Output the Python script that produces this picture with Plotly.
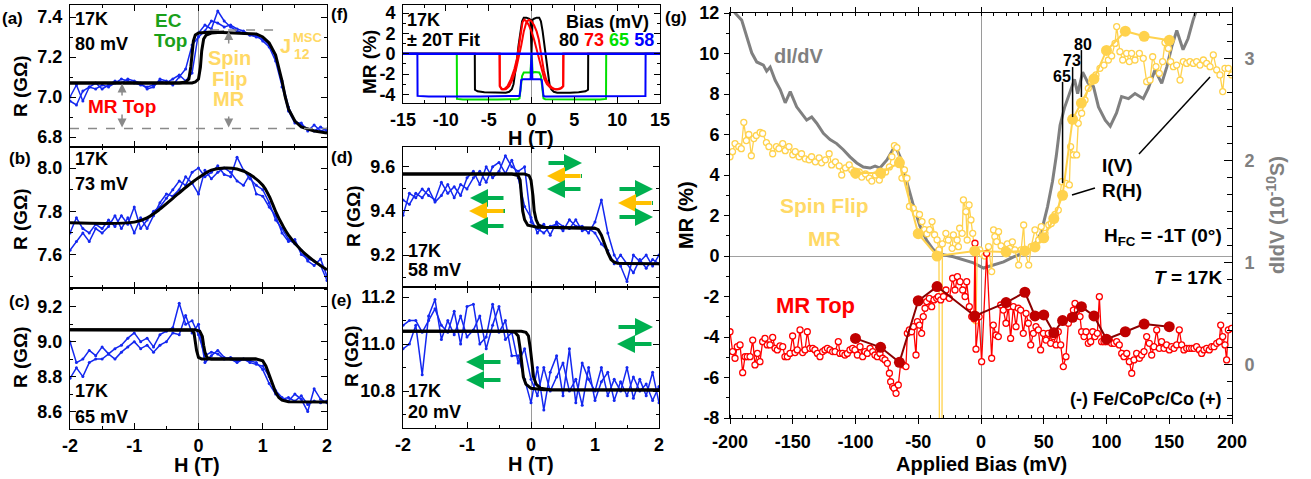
import plotly.graph_objects as go

W, H = 1311, 479
FONT = "Liberation Sans, Arial, sans-serif"
BLUE = "#1428F0"
RED = "#FF0000"
DARKRED = "#C00000"
YEL = "#FFD24D"
YEL_TXT = "#FFD966"
GRAY = "#808080"
GREEN_TXT = "#1AA01A"
GREEN_ARR = "#00B050"
ORANGE = "#FFC000"
BGREEN = "#00E000"

# ---------------- data: panels (a)-(e), R (GOhm) vs H (T) ----------------
H_GRID = [-2.0, -1.9, -1.8, -1.7, -1.6, -1.5, -1.4, -1.3, -1.2, -1.1, -1.0, -0.9, -0.8, -0.7,
          -0.6, -0.5, -0.4, -0.3, -0.2, -0.1, 0.0, 0.1, 0.2, 0.3, 0.4, 0.5, 0.6, 0.7, 0.8, 0.9,
          1.0, 1.1, 1.2, 1.3, 1.4, 1.5, 1.6, 1.7, 1.8, 1.9, 2.0]

A_SWEEP1 = [6.98, 6.96, 7.03, 7.05, 7.04, 7.06, 7.05, 7.07, 7.09, 7.08, 7.07, 7.06, 7.05, 7.06,
            7.08, 7.07, 7.09, 7.11, 7.08, 7.12, 7.32, 7.36, 7.34, 7.43, 7.38, 7.35, 7.33, 7.32,
            7.31, 7.30, 7.29, 7.26, 7.20, 7.08, 6.95, 6.88, 6.86, 6.84, 6.83, 6.85, 6.83]
A_SWEEP2 = [7.00, 7.06, 6.98, 7.05, 7.07, 7.04, 7.06, 7.08, 7.07, 7.09, 7.08, 7.07, 7.04, 7.05,
            7.09, 7.08, 7.06, 7.10, 7.14, 7.26, 7.30, 7.33, 7.38, 7.37, 7.35, 7.36, 7.34, 7.33,
            7.31, 7.31, 7.28, 7.25, 7.18, 7.05, 6.93, 6.87, 6.87, 6.83, 6.86, 6.83, 6.84]
A_FIT1_H = [-2.0, -0.3, -0.2, -0.15, -0.12, -0.1, -0.08, -0.05, 0.0, 0.2, 0.9, 1.0, 1.1, 1.2,
            1.25, 1.3, 1.35, 1.4, 1.5, 1.6, 1.8, 2.0]
A_FIT1_R = [7.07, 7.07, 7.075, 7.09, 7.15, 7.22, 7.28, 7.31, 7.32, 7.325, 7.315, 7.30, 7.27,
            7.21, 7.15, 7.08, 7.00, 6.94, 6.88, 6.85, 6.83, 6.82]
A_FIT2_H = [-2.0, -0.1, -0.05, 0.0, 0.03, 0.05, 0.08, 0.12, 0.2, 0.4]
A_FIT2_R = [7.07, 7.07, 7.075, 7.09, 7.15, 7.23, 7.29, 7.31, 7.32, 7.325]

B_SWEEP1 = [7.70, 7.77, 7.72, 7.70, 7.74, 7.72, 7.76, 7.73, 7.78, 7.74, 7.82, 7.72, 7.76, 7.80,
            7.82, 7.86, 7.90, 7.94, 7.92, 7.98, 8.00, 7.96, 7.98, 8.01, 7.97, 7.96, 8.05, 7.99,
            7.95, 7.92, 7.90, 7.84, 7.76, 7.72, 7.67, 7.65, 7.62, 7.57, 7.55, 7.58, 7.50]
B_SWEEP2 = [7.62, 7.66, 7.70, 7.66, 7.72, 7.70, 7.73, 7.78, 7.72, 7.77, 7.70, 7.77, 7.72, 7.78,
            7.84, 7.88, 7.87, 7.90, 7.96, 7.93, 7.88, 7.99, 7.95, 7.98, 8.00, 7.98, 7.94, 7.92,
            7.97, 7.88, 7.87, 7.82, 7.78, 7.70, 7.66, 7.67, 7.60, 7.58, 7.57, 7.55, 7.48]
B_FIT_H = [-2.0, -1.0, -0.8, -0.6, -0.4, -0.2, 0.0, 0.2, 0.4, 0.6, 0.8, 1.0, 1.1, 1.2, 1.3,
           1.4, 1.6, 1.8, 2.0]
B_FIT_R = [7.747, 7.75, 7.77, 7.81, 7.86, 7.91, 7.955, 7.99, 8.0, 7.995, 7.97, 7.92, 7.87,
           7.80, 7.74, 7.69, 7.62, 7.57, 7.53]

C_SWEEP1 = [9.00, 8.88, 8.90, 8.95, 8.92, 8.97, 8.93, 8.96, 8.98, 9.02, 9.05, 9.00, 9.02, 8.97,
            9.04, 9.06, 9.08, 9.22, 9.10, 9.12, 9.04, 8.92, 8.94, 8.93, 8.90, 8.91, 8.89, 8.90,
            8.88, 8.87, 8.86, 8.80, 8.72, 8.68, 8.66, 8.70, 8.67, 8.60, 8.73, 8.67, 8.65]
C_SWEEP2 = [8.79, 8.85, 8.80, 8.88, 8.90, 8.90, 8.93, 8.90, 8.94, 8.97, 9.00, 8.96, 8.98, 8.94,
            8.98, 9.00, 9.05, 9.04, 9.15, 9.05, 9.10, 8.88, 8.92, 8.95, 8.91, 8.90, 8.88, 8.90,
            8.89, 8.88, 8.84, 8.76, 8.70, 8.67, 8.68, 8.66, 8.69, 8.64, 8.66, 8.65, 8.66]
C_FIT1_H = [-2.0, -0.2, -0.1, -0.07, -0.05, -0.03, 0.0, 0.05, 0.9, 1.0, 1.05, 1.1, 1.15, 1.2,
            1.25, 1.3, 1.4, 2.0]
C_FIT1_R = [9.068, 9.068, 9.065, 9.05, 9.0, 8.95, 8.91, 8.90, 8.90, 8.89, 8.86, 8.81, 8.76,
            8.71, 8.68, 8.665, 8.656, 8.655]
C_FIT2_H = [-2.0, -0.05, 0.02, 0.06, 0.08, 0.1, 0.13, 0.2, 0.9]
C_FIT2_R = [9.068, 9.068, 9.06, 9.03, 8.98, 8.94, 8.91, 8.90, 8.90]

D_SWEEP1 = [9.38, 9.48, 9.46, 9.50, 9.47, 9.45, 9.53, 9.48, 9.51, 9.47, 9.55, 9.58, 9.52, 9.60,
            9.55, 9.58, 9.65, 9.60, 9.58, 9.60, 9.35, 9.32, 9.30, 9.33, 9.34, 9.31, 9.36, 9.33,
            9.33, 9.30, 9.35, 9.45, 9.30, 9.20, 9.15, 9.08, 9.20, 9.17, 9.20, 9.15, 9.20]
D_SWEEP2 = [9.45, 9.43, 9.48, 9.46, 9.50, 9.44, 9.47, 9.52, 9.46, 9.52, 9.50, 9.55, 9.58, 9.53,
            9.60, 9.62, 9.57, 9.63, 9.55, 9.42, 9.37, 9.30, 9.34, 9.29, 9.35, 9.33, 9.32, 9.36,
            9.31, 9.32, 9.30, 9.25, 9.22, 9.16, 9.20, 9.16, 9.12, 9.18, 9.14, 9.18, 9.16]
D_FIT1_H = [-2.0, -0.3, -0.2, -0.17, -0.15, -0.13, -0.1, -0.05, 0.1, 1.0, 1.05, 1.1, 1.15,
            1.2, 1.25, 1.3, 1.35, 1.45, 2.0]
D_FIT1_R = [9.567, 9.567, 9.56, 9.54, 9.47, 9.40, 9.36, 9.335, 9.326, 9.322, 9.315, 9.29,
            9.25, 9.21, 9.18, 9.168, 9.163, 9.162, 9.16]
D_FIT2_H = [-2.0, -0.1, -0.03, 0.0, 0.03, 0.05, 0.08, 0.12, 0.2, 1.0]
D_FIT2_R = [9.567, 9.567, 9.56, 9.54, 9.47, 9.40, 9.36, 9.335, 9.326, 9.322]

E_SWEEP1 = [11.08, 11.10, 11.10, 11.05, 11.10, 11.15, 11.08, 11.05, 11.14, 11.00, 11.16, 11.17,
            11.00, 11.03, 11.17, 11.05, 11.10, 10.95, 10.95, 10.85, 10.75, 10.90, 10.72, 10.88,
            10.95, 10.78, 10.98, 10.75, 10.92, 10.85, 10.80, 10.90, 10.78, 10.85, 10.80, 10.90,
            10.77, 10.85, 10.78, 10.88, 10.75]
E_SWEEP2 = [10.98, 11.00, 11.08, 10.87, 11.12, 11.19, 11.02, 11.10, 11.04, 11.12, 11.03, 11.06,
            11.12, 10.98, 11.08, 11.16, 11.02, 11.05, 10.92, 10.98, 10.85, 10.78, 10.90, 10.80,
            10.86, 10.92, 10.80, 10.85, 10.74, 10.90, 10.76, 10.84, 10.88, 10.76, 10.84, 10.78,
            10.86, 10.80, 10.83, 10.76, 10.82]
E_FIT1_H = [-2.0, -0.35, -0.25, -0.2, -0.17, -0.15, -0.12, -0.08, 0.0, 0.2, 2.0]
E_FIT1_R = [11.055, 11.055, 11.05, 11.035, 10.98, 10.92, 10.86, 10.83, 10.812, 10.806, 10.805]
E_FIT2_H = [-2.0, -0.15, -0.08, -0.04, -0.01, 0.01, 0.04, 0.08, 0.15, 0.3, 2.0]
E_FIT2_R = [11.055, 11.055, 11.05, 11.035, 10.98, 10.92, 10.86, 10.83, 10.812, 10.806, 10.805]

# ---------------- data: panel (f), MR (%) vs H (T), +-20T fits ----------------
F80_H = [-15, -6.62, -6.6, -6.3, -5.5, -4.5, -3.5, -3.0, -2.6, -2.3, -2.1, -1.9, -1.7, -1.5,
         -1.3, -1.1, -0.9, -0.6, -0.3, -0.12, -0.05, 0.0, 0.05, 0.12, 0.3, 0.6, 0.9, 1.1, 1.3,
         1.5, 1.7, 1.9, 2.1, 2.3, 2.6, 3.0, 3.5, 4.5, 5.5, 6.3, 6.6, 6.62, 15]
F80_MR = [0, 0, -3.55, -3.7, -3.78, -3.83, -3.85, -3.84, -3.75, -3.5, -3.0, -2.0, -0.6, 0.9,
          2.2, 3.2, 3.55, 3.55, 3.45, 3.35, 1.5, 0.05, 1.5, 3.35, 3.45, 3.55, 3.55, 3.2, 2.2,
          0.9, -0.6, -2.0, -3.0, -3.5, -3.75, -3.84, -3.85, -3.83, -3.78, -3.7, -3.55, 0, 0]
F73_H = [-15, -3.72, -3.7, -3.5, -3.2, -2.8, -2.4, -2.0, -1.7, -1.45, -1.25, -1.05, -0.85,
         -0.6, -0.3, 0.0, 0.3, 0.6, 0.9, 1.2, 1.5, 1.8, 2.2, 2.6, 3.0, 3.4, 3.7, 3.72, 15]
F73_MR = [0, 0, -3.2, -3.5, -3.5, -3.2, -2.5, -1.5, -0.5, 0.8, 2.2, 3.1, 3.35, 3.2, 2.8, 2.2,
          1.4, 0.4, -0.7, -1.7, -2.5, -3.0, -3.35, -3.5, -3.5, -3.4, -3.2, 0, 0]
F73B_H = [-h for h in F73_H]
F65_H = [-15, -8.72, -8.7, -8.0, -4.0, -1.6, -1.4, -1.25, -1.1, -0.9, -0.4, -0.2, -0.12,
         -0.06, 0.0, 0.06, 0.12, 0.2, 0.4, 0.9, 1.1, 1.25, 1.4, 1.6, 4.0, 8.0, 8.7, 8.72, 15]
F65_MR = [0, 0, -4.45, -4.5, -4.5, -4.48, -4.4, -3.5, -2.2, -1.85, -1.8, -1.85, -1.9, -0.6,
          0.0, -0.6, -1.9, -1.85, -1.8, -1.85, -2.2, -3.5, -4.4, -4.48, -4.5, -4.5, -4.45, 0, 0]
F58_H = [-15, -13.32, -13.3, -12, -6, -1.6, -1.4, -1.3, -1.2, -1.0, -0.5, -0.2, -0.1, -0.05,
         0.0, 0.05, 0.1, 0.2, 0.5, 1.0, 1.2, 1.3, 1.4, 1.6, 6, 12, 13.3, 13.32, 15]
F58_MR = [0, 0, -4.15, -4.2, -4.2, -4.2, -4.15, -3.6, -2.6, -2.5, -2.5, -2.5, -2.5, -1.0, 0.0,
          -1.0, -2.5, -2.5, -2.5, -2.5, -2.6, -3.6, -4.15, -4.2, -4.2, -4.2, -4.15, 0, 0]
F58_ZERO_H = [-15, 15]
F58_ZERO_MR = [0, 0]

# ---------------- data: panel (g) ----------------
G_BIAS = [-200, -196, -190.7, -186.7, -182.7, -178.7, -173.4, -170.8, -168, -164, -160, -156,
          -152, -146.9, -141.6, -138.9, -134.9, -130.9, -125.6, -120.3, -115, -109.7, -104.4,
          -99, -93.8, -88.4, -84.4, -80.5, -75, -69.8, -68, -64.5, -59.2, -54, -48.6, -43.3,
          -38, -30, -22, -14, -6, 2, 10, 18, 26, 34, 42, 48, 53, 57, 60, 63, 66.5, 70, 74.5,
          77, 81, 85.5, 89.6, 93.6, 99, 103, 108, 112, 117.5, 122.7, 129.3, 133.3, 138.6, 144,
          148, 152, 156, 161, 165, 169, 173, 180, 200]
G_DIDV = [3.55, 3.45, 3.38, 3.22, 3.06, 2.97, 2.94, 2.88, 2.92, 2.79, 2.70, 2.57, 2.68, 2.53,
          2.45, 2.40, 2.43, 2.37, 2.27, 2.21, 2.17, 2.11, 2.04, 1.98, 1.94, 1.93, 1.95, 1.93,
          2.01, 2.12, 2.14, 2.04, 1.80, 1.57, 1.36, 1.22, 1.13, 1.08, 1.06, 1.03, 1.0, 0.95,
          0.98, 1.01, 1.06, 1.10, 1.16, 1.30, 1.55, 1.80, 2.05, 2.35, 2.52, 2.65, 2.80, 2.66,
          2.87, 2.76, 2.73, 2.53, 2.40, 2.34, 2.47, 2.63, 2.61, 2.66, 2.61, 2.71, 2.89, 2.76,
          2.92, 3.12, 3.28, 3.09, 3.20, 3.38, 3.52, 3.80, 4.50]

IV_SF_BIAS = [-200, -198, -196, -193, -191, -189, -187, -185, -183, -181, -179, -176, -174, -171,
              -169, -166, -163, -161, -158, -156, -153, -150, -148, -145, -143, -140, -137, -135,
              -132, -129, -127, -124, -121, -119, -116, -113, -111, -108, -105, -103, -100, -97,
              -95, -92, -89, -87, -84, -81, -79, -76, -73, -71, -69, -67, -65, -63, -61, -59,
              -57, -54, -52, -49, -47, -45, -43, -41, -39, -37, -35, -33.5, -32, -30.8, -28,
              -26, -23, -22, -19, -18, -17, -15, -14, -12, -11, -9.5, -8, -6.6, -5, -4, -3, -1,
              1, 3, 4.5, 6, 8.5, 10, 11, 12.5, 14, 16, 19, 21, 23, 25, 27, 30, 32, 34, 35, 38,
              40, 43, 46, 48, 51, 54, 56, 59, 61.6, 64.3, 67.7, 70.4, 71.4, 73.6, 76.2, 77.5,
              80.2, 82.9, 85.5, 88.2, 91.6, 94.8, 98, 101.5, 104.1, 106.8, 108.1, 110.7, 112.9,
              116, 118.2, 120, 122.7, 126.2, 129.3, 132, 134.7, 136.8, 139.4, 142.1, 144.7,
              146.6, 149.3, 151.1, 153.3, 155.9, 158.6, 161.2, 163.9, 166.5, 169.2, 171.8, 174.5,
              177.2, 179.8, 182.5, 185.1, 187.8, 190.4, 192.6, 194.4, 197.1, 199.7]
IV_SF_MR = [4.9, 5.15, 5.55, 5.4, 5.3, 6.6, 5.7, 6.0, 4.95, 5.8, 5.95, 6.1, 6.05, 5.6, 5.4, 5.05,
            5.4, 5.3, 5.55, 5.2, 5.4, 5.0, 5.15, 4.9, 5.05, 4.8, 4.75, 4.9, 4.65, 4.85, 4.6,
            4.75, 5.05, 4.5, 4.65, 4.45, 4.0, 4.35, 4.5, 4.25, 4.0, 4.15, 3.9, 4.05, 3.85, 3.7,
            4.0, 3.75, 4.0, 4.15, 4.4, 4.9, 5.45, 5.35, 4.75, 3.85, 4.25, 3.84, 2.45, 2.35, 2.1,
            2.05, 1.7, 1.3, 1.1, 1.3, 1.7, 1.05, 0.8, 0.3, -40, 0.6, 1.12, 0.79, 0.38, 1.04,
            0.79, 0.46, 1.37, 1.12, 2.77, 2.19, 0.79, 2.52, 1.78, 1.12, 0.3, -3.2, 0.2, 0.3, 0.1,
            0.0, 0.13, 0.46, -0.77, 1.29, 0.96, 0.71, 1.2, 0.5, 0.3, 0.6, 0.38, 0.7, 0.3, -0.45,
            0.3, 1.53, 0.21, -0.45, 0.46, 1.29, 0.79, 1.45, 1.12, 1.53, 1.61, 2.05, 2.27, 3.67,
            3.59, 3.51, 5.4, 4.99, 4.99, 6.55, 7.05, 7.7, 8.28, 8.61, 8.94, 9.27, 9.43, 9.68,
            9.88, 10.5, 11.33, 10.09, 9.68, 10.01, 9.6, 10.01, 9.68, 10.01, 9.76, 8.61, 8.69,
            9.84, 9.35, 9.02, 9.6, 10.54, 10.25, 9.6, 9.35, 9.43, 8.69, 9.6, 9.51, 9.6, 9.51,
            9.6, 9.43, 9.68, 9.51, 9.35, 9.93, 9.19, 8.94, 8.12, 9.27, 9.27, 8.94]

IV_TOP_BIAS = [-200, -197.9, -196, -194.2, -192, -189.9, -188, -186.2, -184, -181.9,
               -180.1, -178.2, -176.1, -174, -172.1, -170.3, -168.1, -166, -164.1, -162.3,
               -160.2, -158, -156.2, -154.3, -152.2, -150.1, -148.2, -146.4, -144.2, -142.1,
               -140.2, -138.4, -136.3, -134.1, -132.3, -130.4, -128.3, -126.2, -124.3, -122.4,
               -120.3, -118.2, -116.3, -113.7, -112.4, -110.3, -108.4, -106.5, -104.4, -102.3,
               -100.4, -98.5, -96.4, -94.3, -92.4, -90.6, -88.4, -86.3, -84.5, -82.6,
               -80.5, -78.4, -76.5, -74.6, -73, -72, -70.4, -69.3, -67.7, -65.9,
               -64, -61.9, -59.8, -58.7, -57.1, -55.3, -53.9, -51.8, -50.7, -49.1,
               -47.3, -46, -44.6, -43.3, -41.2, -39.3, -37.5, -35.3, -34, -32.1,
               -29.9, -27.9, -25.2, -22.6, -20.7, -18.8, -16.7, -14.6, -12.7, -11.4,
               -9.3, -7.4, -5.6, -4.8, -4.0, -1.5, 0.5, 4.5, 8.5, 9.8,
               12, 13.8, 15.7, 17.8, 19.9, 21.8, 23.6, 25.8, 27.9, 29.7,
               31.6, 33.7, 35.9, 37.7, 39.6, 41.7, 43.8, 45.7, 47.5, 49.7,
               51.8, 53.6, 55.5, 57.6, 59.8, 61.6, 63.5, 65.6, 67.7, 69.6,
               71.4, 73.6, 74.9, 76.8, 78.9, 80.2, 82.1, 83.7, 85.5, 87.4,
               89, 90.8, 92.7, 94.3, 96.1, 98, 100.1, 102.3, 104.1, 106,
               108.1, 110.2, 112.1, 113.9, 116.1, 118.2, 120.1, 121.9, 124, 126.2,
               128, 129.9, 132, 134.1, 136, 137.8, 140, 142.1, 143.9, 145.8,
               147.9, 150.1, 151.9, 153.8, 155.9, 158, 159.9, 161.7, 163.9, 166,
               167.9, 169.7, 171.8, 174, 175.8, 177.7, 179.8, 181.9, 183.8, 185.7,
               187.8, 189.9, 191, 192.6, 194.4, 195.7, 197.1, 199.7]
IV_TOP_MR = [-3.74, -4.72, -5.05, -4.48, -4.39, -5.76, -4.97, -4.97, -4.97, -4.15,
             -5.38, -4.81, -5.22, -4.23, -4.07, -4.39, -4.39, -4.02, -4.56, -4.64,
             -4.44, -4.48, -4.97, -4.97, -4.81, -3.95, -4.77, -4.64, -3.65, -4.77,
             -4.64, -3.74, -4.56, -4.56, -4.64, -4.81, -4.97, -4.72, -4.64, -4.56,
             -4.64, -4.72, -4.72, -4.23, -4.81, -4.81, -4.89, -4.81, -4.64, -4.56,
             -4.64, -4.89, -4.48, -4.97, -4.72, -4.81, -4.56, -4.72, -4.89, -4.97,
             -4.81, -5.05, -5.13, -5.3, -5.79, -6.21, -6.45, -6.53, -6.78, -6.37,
             -5.3, -5.38, -5.46, -3.82, -3.65, -3.74, -3.49, -4.89, -3.24, -3.41,
             -3.82, -2.99, -2.58, -2.25, -2.09, -2.5, -2.17, -2.09, -2.01, -2.17,
             -2.0, -1.68, -2.09, -1.1, -1.68, -1.02, -1.27, -1.68, -2.0, -1.27,
             -2.5, -2.99, -3.1, 0.63, -4.6, -3.0, -5.22, 0.13, -5.05, -3.41,
             -3.9, -3.98, -2.42, -2.67, -3.32, -2.5, -4.07, -2.5, -3.49, -2.58,
             -2.67, -3.82, -2.83, -3.32, -4.39, -3.82, -3.49, -3.65, -4.64, -3.82,
             -4.15, -3.82, -4.31, -3.98, -4.39, -3.74, -4.39, -5.46, -4.97, -3.32,
             -2.99, -2.67, -2.34, -2.67, -2.99, -3.74, -3.98, -3.74, -4.31, -4.23,
             -3.74, -3.98, -3.82, -2.01, -4.23, -4.23, -4.23, -4.15, -4.31, -4.31,
             -4.23, -4.39, -4.81, -4.97, -4.81, -5.22, -5.79, -5.13, -4.81, -5.05,
             -4.89, -4.72, -3.98, -4.31, -4.89, -4.48, -3.65, -4.56, -4.23, -4.56,
             -4.39, -4.64, -4.48, -4.56, -4.39, -3.65, -4.39, -4.64, -4.56, -4.56,
             -4.56, -4.56, -4.48, -4.64, -4.81, -4.64, -4.56, -4.64, -4.48, -4.48,
             -4.31, -4.23, -3.41, -3.98, -4.39, -5.13, -3.65, -3.57]

RH_BIAS = [-100, -80, -65, -50, -35, -5, 20, 35, 43, 50, 58, 65, 73, 80, 90, 100, 115, 130, 150]
RH_SF_MR = [4.1, 4.1, 4.6, 1.1, 0.0, 0.25, 0.2, 0.25, 0.45, 0.9, 1.85, 3.0, 6.75, 7.55, 8.75,
            10.15, 11.1, 10.85, 10.65]
RH_TOP_MR = [-4.07, -4.51, -5.25, -2.21, -1.51, -2.96, -2.3, -1.79, -2.96, -2.91, -3.79, -3.19,
             -3.03, -2.5, -2.96, -4.11, -3.74, -3.36, -3.49]

# marked biases (65, 73, 80 mV) with their marker-line spans in MR
MARK_BIAS = [65, 73, 80]
MARK_LOW = [3.6, 6.86, 7.85]
MARK_HIGH = [8.6, 9.33, 10.17]

# tick labels
H_TICKS = [-2, -1, 0, 1, 2]
H_TICK_TEXT = ["-2", "-1", "0", "1", "2"]
F_TICKS = [-15, -10, -5, 0, 5, 10, 15]
F_TICK_TEXT = ["-15", "-10", "-5", "0", "5", "10", "15"]
F_YTICKS = [-4, -2, 0, 2, 4]
F_YTICK_TEXT = ["-4", "-2", "0", "2", "4"]
G_XTICKS = [-200, -150, -100, -50, 0, 50, 100, 150, 200]
G_XTICK_TEXT = ["-200", "-150", "-100", "-50", "0", "50", "100", "150", "200"]
G_YTICKS = [-8, -6, -4, -2, 0, 2, 4, 6, 8, 10, 12]
G_YTICK_TEXT = ["-8", "-6", "-4", "-2", "0", "2", "4", "6", "8", "10", "12"]


# ---------------- helpers (page pixel -> paper fraction) ----------------
def fx(p):
    return p / W


def fy(p):
    return 1 - p / H


TF = dict(family=FONT, size=18, color="black", weight="bold")


def xax(x0, x1, anchor, rng, labels=False, tickvals=None, ticktext=None, dtick=None,
        minor=None, **kw):
    d = dict(domain=[fx(x0), fx(x1)], anchor=anchor, range=rng, showticklabels=labels,
             ticks="inside", ticklen=6, tickwidth=1, tickcolor="black", automargin=False,
             showline=True, linecolor="black", linewidth=1, mirror="ticks",
             showgrid=False, zeroline=True, zerolinecolor="#9a9a9a", zerolinewidth=1,
             tickfont=TF, ticklabelstandoff=0, ticklabeloverflow="allow")
    if tickvals is not None:
        d.update(tickmode="array", tickvals=tickvals, ticktext=ticktext)
    else:
        d.update(dtick=dtick, tick0=0)
    if minor is not None:
        d["minor"] = dict(tickmode="linear", tick0=0, dtick=minor, ticks="inside",
                          ticklen=3, tickcolor="black", showgrid=False)
    d.update(kw)
    return d


def yax(y_top, y_bot, anchor, rng, tick0=None, dtick=None, minor=None, tickvals=None,
        ticktext=None, fmt=".1f", **kw):
    d = dict(domain=[fy(y_bot), fy(y_top)], anchor=anchor, range=rng, automargin=False,
             ticks="inside", ticklen=6, tickwidth=1, tickcolor="black",
             showline=True, linecolor="black", linewidth=1, mirror="ticks",
             showgrid=False, zeroline=False, tickfont=TF, ticklabelstandoff=3,
             ticklabeloverflow="allow")
    if tickvals is not None:
        d.update(tickmode="array", tickvals=tickvals, ticktext=ticktext)
    else:
        d.update(tick0=tick0, dtick=dtick, tickformat=fmt)
    if minor is not None:
        d["minor"] = dict(tickmode="linear", tick0=tick0 if tick0 is not None else 0,
                          dtick=minor, ticks="inside", ticklen=3, tickcolor="black",
                          showgrid=False)
    d.update(kw)
    return d


fig = go.Figure()


def blue(xs, ys, xa, ya):
    fig.add_trace(go.Scatter(x=xs, y=ys, xaxis=xa, yaxis=ya, mode="lines+markers",
                             line=dict(color=BLUE, width=1.5),
                             marker=dict(color=BLUE, size=3), hoverinfo="skip"))


def fit(xs, ys, xa, ya, shape="linear", color="black", width=3):
    fig.add_trace(go.Scatter(x=xs, y=ys, xaxis=xa, yaxis=ya, mode="lines",
                             line=dict(color=color, width=width, shape=shape),
                             hoverinfo="skip"))


# (a)
blue(H_GRID, A_SWEEP1, "x", "y")
blue(H_GRID, A_SWEEP2, "x", "y")
fit(A_FIT2_H, A_FIT2_R, "x", "y")
fit(A_FIT1_H, A_FIT1_R, "x", "y")
# (b)
blue(H_GRID, B_SWEEP1, "x2", "y2")
blue(H_GRID, B_SWEEP2, "x2", "y2")
fit(B_FIT_H, B_FIT_R, "x2", "y2", shape="spline")
# (c)
blue(H_GRID, C_SWEEP1, "x3", "y3")
blue(H_GRID, C_SWEEP2, "x3", "y3")
fit(C_FIT2_H, C_FIT2_R, "x3", "y3")
fit(C_FIT1_H, C_FIT1_R, "x3", "y3")
# (f)
fit(F80_H, F80_MR, "x4", "y4", color="black", width=2)
fit(F73_H, F73_MR, "x4", "y4", color=RED, width=2)
fit(F73B_H, F73_MR[::-1], "x4", "y4", color=RED, width=2)
fit(F65_H, F65_MR, "x4", "y4", color=BGREEN, width=2)
fit(F58_H, F58_MR, "x4", "y4", color="#0000FF", width=2)
fit(F58_ZERO_H, F58_ZERO_MR, "x4", "y4", color="#0000FF", width=2.6)
# (d)
blue(H_GRID, D_SWEEP1, "x5", "y5")
blue(H_GRID, D_SWEEP2, "x5", "y5")
fit(D_FIT2_H, D_FIT2_R, "x5", "y5")
fit(D_FIT1_H, D_FIT1_R, "x5", "y5")
# (e)
blue(H_GRID, E_SWEEP1, "x6", "y6")
blue(H_GRID, E_SWEEP2, "x6", "y6")
fit(E_FIT2_H, E_FIT2_R, "x6", "y6")
fit(E_FIT1_H, E_FIT1_R, "x6", "y6")

# (g) gray dI/dV on base right axis (y7); MR traces on overlay left axis (y8)
fig.add_trace(go.Scatter(x=G_BIAS, y=G_DIDV, xaxis="x7", yaxis="y7", mode="lines",
                         line=dict(color=GRAY, width=3), hoverinfo="skip"))
fig.add_trace(go.Scatter(x=IV_SF_BIAS, y=IV_SF_MR, xaxis="x7", yaxis="y8",
                         mode="lines+markers", line=dict(color=YEL, width=1.3),
                         marker=dict(color="white", size=6, line=dict(color=YEL, width=1.3)),
                         hoverinfo="skip"))
fig.add_trace(go.Scatter(x=IV_TOP_BIAS, y=IV_TOP_MR, xaxis="x7", yaxis="y8",
                         mode="lines+markers", line=dict(color=RED, width=1.3),
                         marker=dict(color="white", size=6, line=dict(color=RED, width=1.3)),
                         hoverinfo="skip"))
fig.add_trace(go.Scatter(x=RH_BIAS, y=RH_SF_MR, xaxis="x7", yaxis="y8", mode="lines+markers",
                         line=dict(color=YEL, width=2), marker=dict(color=YEL, size=11),
                         hoverinfo="skip"))
fig.add_trace(go.Scatter(x=RH_BIAS, y=RH_TOP_MR, xaxis="x7", yaxis="y8", mode="lines+markers",
                         line=dict(color="#8B0000", width=2), marker=dict(color=DARKRED, size=11),
                         hoverinfo="skip"))

layout = dict(
    template="none",
    width=W, height=H, margin=dict(l=0, r=0, t=0, b=0, pad=0, autoexpand=False),
    showlegend=False, paper_bgcolor="white", plot_bgcolor="white",
    font=dict(family=FONT, size=18, color="black", weight="bold"),
    # (a)
    xaxis=xax(70, 327, "y", [-2, 2], dtick=1, minor=0.5),
    yaxis=yax(5, 147, "x", [6.75, 7.46], tick0=6.8, dtick=0.2, minor=0.1),
    # (b)
    xaxis2=xax(70, 327, "y2", [-2, 2], dtick=1, minor=0.5),
    yaxis2=yax(147, 287.5, "x2", [7.448, 8.097], tick0=7.6, dtick=0.2, minor=0.1),
    # (c)
    xaxis3=xax(70, 327, "y3", [-2, 2], labels=True, tickvals=H_TICKS, ticktext=H_TICK_TEXT,
               minor=0.5),
    yaxis3=yax(287.5, 429, "x3", [8.50, 9.31], tick0=8.6, dtick=0.2, minor=0.1),
    # (f)
    xaxis4=xax(403, 660, "y4", [-15, 15], labels=True, tickvals=F_TICKS, ticktext=F_TICK_TEXT,
               minor=2.5),
    yaxis4=yax(5, 103, "x4", [-4.85, 4.8], tickvals=F_YTICKS, ticktext=F_YTICK_TEXT,
               minor=1, tick0=0),
    # (d)
    xaxis5=xax(403, 659, "y5", [-2, 2], dtick=1, minor=0.5),
    yaxis5=yax(147, 287, "x5", [9.055, 9.69], tick0=9.2, dtick=0.2, minor=0.1),
    # (e)
    xaxis6=xax(403, 659, "y6", [-2, 2], labels=True, tickvals=H_TICKS, ticktext=H_TICK_TEXT,
               minor=0.5),
    yaxis6=yax(287, 428, "x6", [10.643, 11.243], tick0=10.8, dtick=0.2, minor=0.1),
    # (g)
    xaxis7=xax(730, 1232, "y7", [-200, 200], labels=True, tickvals=G_XTICKS,
               ticktext=G_XTICK_TEXT, minor=10, ticks="outside", ticklen=5,
               ticklabelstandoff=2),
    yaxis7=dict(domain=[fy(418), fy(13)], anchor="x7", side="right", range=[-0.52, 3.45],
                tick0=0, dtick=1, ticks="inside", ticklen=8, tickcolor="black",
                showline=True, linecolor="black", linewidth=1, showgrid=False,
                zeroline=False, ticklabelstandoff=8, automargin=False,
                ticklabeloverflow="allow",
                tickfont=dict(family=FONT, size=18, color=GRAY, weight="bold"),
                minor=dict(tickmode="linear", tick0=0, dtick=1 / 6, ticks="inside",
                           ticklen=5, tickcolor="black")),
    yaxis8=dict(overlaying="y7", anchor="x7", side="left", range=[-8, 12],
                tickmode="array", tickvals=G_YTICKS, ticktext=G_YTICK_TEXT, automargin=False,
                ticks="outside", ticklen=5, tickcolor="black", showline=True,
                linecolor="black", linewidth=1, showgrid=False, zeroline=True,
                zerolinecolor="#a0a0a0", zerolinewidth=1, tickfont=TF, ticklabelstandoff=1,
                ticklabeloverflow="allow",
                minor=dict(tickmode="linear", tick0=0, dtick=1, ticks="outside", ticklen=3,
                           tickcolor="black")),
)
fig.update_layout(**layout)


# ---------------- annotations ----------------
def T(text, x, y, size=18, color="black", xanchor="center", angle=0, bg=None):
    d = dict(text=text, x=fx(x), y=fy(y), xref="paper", yref="paper", showarrow=False,
             xanchor=xanchor, yanchor="middle", textangle=angle, borderpad=0,
             font=dict(family=FONT, size=size, color=color, weight="bold"))
    if bg:
        d["bgcolor"] = bg
    return d


ann = [
    T("(a)", 1, 18, 17, xanchor="left"), T("(b)", 8, 158, 17, xanchor="left"),
    T("(c)", 8, 301, 17, xanchor="left"), T("(f)", 330, 15, 17, xanchor="left"),
    T("(d)", 330, 157, 17, xanchor="left"), T("(e)", 330, 300, 17, xanchor="left"),
    T("(g)", 664, 17, 17, xanchor="left"),
    # axis titles
    T("R (GΩ)", 20, 86, 19, angle=-90), T("R (GΩ)", 20, 219, 19, angle=-90),
    T("R (GΩ)", 20, 357, 19, angle=-90), T("R (GΩ)", 354, 216, 19, angle=-90),
    T("R (GΩ)", 351, 356, 19, angle=-90), T("MR (%)", 370, 62, 19, angle=-90),
    T("H (T)", 197, 465, 20), T("H (T)", 531, 138, 20), T("H (T)", 531, 464, 20),
    T("MR (%)", 686, 215, 20, angle=-90), T("Applied Bias (mV)", 981, 464, 20),
    T("dIdV (10<sup>-10</sup>S)", 1276, 215, 20, color=GRAY, angle=-90),
    # (a)
    T("17K", 74, 19, 18, xanchor="left"), T("80 mV", 74, 44, 18, xanchor="left"),
    T("EC", 168, 21, 19, GREEN_TXT), T("Top", 170, 40, 19, GREEN_TXT),
    T("MR Top", 122, 106, 19, RED),
    T("Spin", 229, 58, 20, YEL_TXT), T("Flip", 230, 79, 20, YEL_TXT),
    T("MR", 229, 99, 20, YEL_TXT),
    T("J", 285, 46, 20, YEL_TXT), T("MSC", 308, 37, 13, YEL_TXT), T("12", 302, 54, 14, YEL_TXT),
    # (b), (c)
    T("17K", 74, 159, 18, xanchor="left"), T("73 mV", 74, 184, 18, xanchor="left"),
    T("17K", 74, 391, 18, xanchor="left"), T("65 mV", 74, 417, 18, xanchor="left"),
    # (d), (e)
    T("17K", 407, 251, 18, xanchor="left"), T("58 mV", 407, 270, 18, xanchor="left"),
    T("17K", 407, 391, 18, xanchor="left"), T("20 mV", 407, 412, 18, xanchor="left"),
    # (f)
    T("17K", 406, 20, 18, xanchor="left"), T("± 20T Fit", 406, 40, 18, xanchor="left"),
    T("Bias (mV)", 650, 22, 18, xanchor="right"),
    T("80 <span style='color:#FF0000'>73</span> <span style='color:#00E000'>65</span> "
      "<span style='color:#0000FF'>58</span>", 655, 40, 18, xanchor="right"),
    # (g)
    T("dI/dV", 799, 56, 20, GRAY),
    T("Spin Flip", 824, 205, 21, YEL_TXT), T("MR", 824, 238, 21, YEL_TXT),
    T("MR Top", 815, 305, 22, RED),
    T(str(MARK_BIAS[0]), 1062, 76, 16), T(str(MARK_BIAS[1]), 1072, 60, 16),
    T(str(MARK_BIAS[2]), 1083, 44, 16),
    T("I(V)", 1117, 165, 19, bg="white"), T("R(H)", 1122, 191, 19, bg="white"),
    T("H<sub>FC</sub> = -1T (0°)", 1223, 237, 19, xanchor="right", bg="white"),
    T("<i>T</i> = 17K", 1223, 277, 19, xanchor="right"),
    T("(-) Fe/CoPc/Co (+)", 1223, 399, 18, xanchor="right"),
]


def arrow(hx, hy, tx, ty, color, width=4, size=0.9):
    return dict(x=fx(hx), y=fy(hy), xref="paper", yref="paper", ax=tx - hx, ay=ty - hy,
                axref="pixel", ayref="pixel", text="", showarrow=True, arrowhead=2,
                arrowsize=size, arrowwidth=width, arrowcolor=color, standoff=0)


ARROWS = [
    # (d)
    (470, 198, 505, 198, GREEN_ARR), (469, 211, 505, 211, ORANGE), (470, 226, 505, 226, GREEN_ARR),
    (582, 163, 547, 163, GREEN_ARR), (547, 176, 582, 176, ORANGE), (547, 189, 582, 189, GREEN_ARR),
    (653, 189, 618, 189, GREEN_ARR), (618, 203, 653, 203, ORANGE), (653, 217, 618, 217, GREEN_ARR),
    # (e)
    (466, 362, 502, 362, GREEN_ARR), (466, 380, 502, 380, GREEN_ARR),
    (653, 327, 617, 327, GREEN_ARR), (617, 344, 653, 344, GREEN_ARR),
]
for a in ARROWS:
    ann.append(arrow(*a))


# gray double arrows in (a)
def darrow(xv, yhead, ytail):
    return dict(x=xv, y=yhead, xref="x", yref="y", ax=xv, ay=ytail, axref="x", ayref="y",
                text="", showarrow=True, arrowhead=2, arrowsize=1.2, arrowwidth=1.5,
                arrowcolor="#8a8a8a", standoff=0)


ann += [darrow(-1.19, 7.068, 7.0), darrow(-1.19, 6.848, 6.92),
        darrow(0.47, 7.33, 7.26), darrow(0.47, 6.848, 6.91)]
fig.update_layout(annotations=ann)

shapes = [
    dict(type="line", xref="x", yref="y", x0=0.18, x1=1.22, y0=7.335, y1=7.335,
         line=dict(color="#8a8a8a", width=1.5, dash="dash")),
    dict(type="line", xref="x", yref="y", x0=-2, x1=2, y0=6.843, y1=6.843,
         line=dict(color="#8a8a8a", width=1.5, dash="dash")),
    # I(V) and R(H) leader lines
    dict(type="line", xref="x7", yref="y8", x0=125.9, x1=182.5, y0=5.04, y1=8.84,
         line=dict(color="black", width=1.5)),
    dict(type="line", xref="x7", yref="y8", x0=72.5, x1=90.8, y0=3.01, y1=3.36,
         line=dict(color="black", width=1.5)),
]
for b, lo, hi in zip(MARK_BIAS, MARK_LOW, MARK_HIGH):
    shapes.append(dict(type="line", xref="x7", yref="y8", x0=b, x1=b, y0=lo, y1=hi,
                       line=dict(color="black", width=1.5)))
# green dotted tails on the orange arrows
for x0, x1, y in [(487, 505, 211), (565, 582, 176), (636, 653, 203)]:
    shapes.append(dict(type="line", xref="paper", yref="paper", x0=fx(x0), x1=fx(x1),
                       y0=fy(y), y1=fy(y), line=dict(color=GREEN_ARR, width=4, dash="dot")))
fig.update_layout(shapes=shapes)

# the page's default 8px body margin is removed so the figure starts at the window corner
fig.write_html("out.html", config=dict(responsive=False, displayModeBar=False),
               post_script="document.body.style.margin='0px';"
                           "document.body.style.padding='0px';")
